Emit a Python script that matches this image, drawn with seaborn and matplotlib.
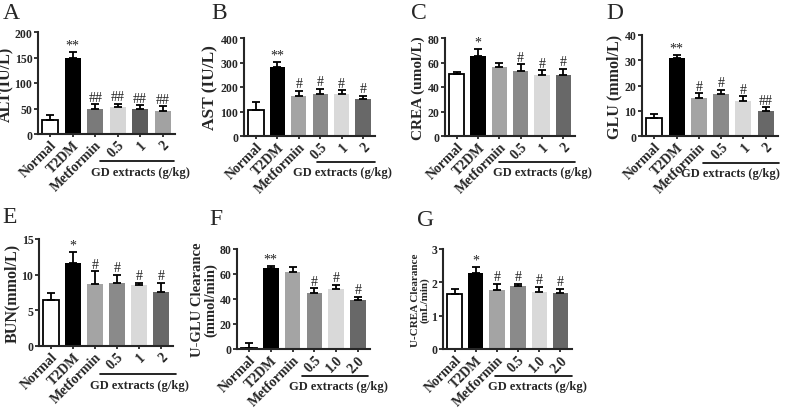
import numpy as np
import pandas as pd
import matplotlib
matplotlib.use("Agg")
import matplotlib.pyplot as plt
import seaborn as sns

sns.set_style("ticks")
plt.rcParams['font.family'] = ['Liberation Serif', 'DejaVu Serif']
plt.rcParams['font.weight'] = 'bold'
plt.rcParams['axes.linewidth'] = 1.5

# --- datos ---
groups_a = ["Normal", "T2DM", "Metformin", "0.5", "1", "2"]
groups_b = ["Normal", "T2DM", "Metformin", "0.5", "1.0", "2.0"]

alt_mean = [27, 150, 50, 52, 49, 45]
alt_err = [10, 10, 8, 7, 7, 9]
alt_sig = ["", "**", "##", "##", "##", "##"]

ast_mean = [108, 283, 165, 173, 170, 150]
ast_err = [30, 18, 20, 20, 17, 15]
ast_sig = ["", "**", "#", "#", "#", "#"]

crea_mean = [50.5, 65.5, 56, 53, 50, 49.5]
crea_err = [1.5, 5.5, 4, 5.5, 3.5, 5.5]
crea_sig = ["", "*", "", "#", "#", "#"]

glu_mean = [7, 31, 15, 16.5, 13.8, 10]
glu_err = [1.6, 1.2, 2, 1.8, 2, 1.4]
glu_sig = ["", "**", "#", "#", "#", "##"]

bun_mean = [6.5, 11.6, 8.7, 8.8, 8.5, 7.6]
bun_err = [1.0, 1.6, 1.8, 1.2, 0.4, 1.3]
bun_sig = ["", "*", "#", "#", "#", "#"]

uglu_mean = [0.5, 64.5, 62, 45, 48, 39]
uglu_err = [4, 2, 4, 3.5, 3.5, 3]
uglu_sig = ["", "**", "", "#", "#", "#"]

ucrea_mean = [1.65, 2.27, 1.78, 1.88, 1.72, 1.68]
ucrea_err = [0.14, 0.2, 0.18, 0.08, 0.15, 0.12]
ucrea_sig = ["", "*", "#", "#", "#", "#"]

colors_a = ["white", "black", "#7a7a7a", "#d6d6d6", "#5c5c5c", "#a2a2a2"]
colors_b = ["white", "black", "#a4a4a4", "#8a8a8a", "#d9d9d9", "#686868"]

W, H = 786, 414
fig = plt.figure(figsize=(W / 100, H / 100), dpi=100)


def panel(box, letter, letter_xy, groups, mean, err, sig, colors, ylabel, yticks,
          lab_size=12, line=(2.2, 5.55), txt_x=4.0, labelpad=1.5):
    x0, x1, y0, y1 = box
    ax = fig.add_axes([x0 / W, 1 - y1 / H, (x1 - x0) / W, (y1 - y0) / H])
    df = pd.DataFrame({"grupo": groups, "valor": mean})
    sns.barplot(data=df, x="grupo", y="valor", hue="grupo", palette=colors,
                width=0.72, legend=False, ax=ax, saturation=1)
    for i, p in enumerate(ax.patches):
        p.set_edgecolor("black" if i == 0 else p.get_facecolor())
        p.set_linewidth(1.3 if i == 0 else 0)
    xs = np.arange(len(groups))
    ax.errorbar(xs, mean, yerr=[np.zeros(len(mean)), err], fmt="none",
                ecolor="black", elinewidth=1.3, capsize=2.6, capthick=1.3)
    top = yticks[-1]
    for xi, m, e, s in zip(xs, mean, err, sig):
        if s:
            ax.text(xi, m + e + top * 0.005, s, ha="center", va="bottom",
                    fontsize=10, fontweight="normal", color="#222222")
    ax.set_ylim(0, top)
    ax.set_yticks(yticks)
    ax.set_xlim(-0.55, len(groups) - 0.45)
    ax.set_xlabel("")
    ax.set_ylabel(ylabel, fontsize=lab_size, fontweight="bold", labelpad=labelpad,
                  linespacing=1.0)
    ax.tick_params(axis="y", labelsize=8.5, width=1.3, length=3, pad=1)
    ax.tick_params(axis="x", labelsize=10, width=1.3, length=2, pad=1)
    ax.set_xticks(xs)
    ax.set_xticklabels(groups, rotation=45, ha="right", rotation_mode="anchor",
                       fontweight="bold")
    for t in ax.get_yticklabels():
        t.set_fontweight("bold")
    sns.despine(ax=ax)
    # linea de GD extracts
    tr = ax.get_xaxis_transform()
    ax.plot(line, [-0.265, -0.265], color="black", lw=1.2,
            transform=tr, clip_on=False)
    ax.text(txt_x, -0.31, "GD extracts (g/kg)", transform=tr, ha="center",
            va="top", fontsize=9, fontweight="bold")
    fig.text(letter_xy[0] / W, 1 - letter_xy[1] / H, letter, fontsize=17,
             fontweight="normal", ha="left", va="top")
    return ax


panel((38, 175, 33, 135), "A", (3, 3), groups_a, alt_mean, alt_err, alt_sig,
      colors_a, "ALT(IU/L)", [0, 50, 100, 150, 200], lab_size=11.5,
      line=(2.2, 5.5), txt_x=4.0, labelpad=0)
panel((244, 375, 39, 137), "B", (211, 3), groups_a, ast_mean, ast_err, ast_sig,
      colors_b, "AST (IU/L)", [0, 100, 200, 300, 400], lab_size=12.5,
      line=(2.85, 5.55), txt_x=4.05)
panel((445, 575, 39, 137), "C", (411, 3), groups_a, crea_mean, crea_err, crea_sig,
      colors_b, "CREA (umol/L)", [0, 20, 40, 60, 80], lab_size=11,
      line=(2.0, 5.55), txt_x=4.0)
panel((642, 778, 36, 137), "D", (606, 3), groups_a, glu_mean, glu_err, glu_sig,
      colors_b, "GLU (mmol/L)", [0, 10, 20, 30, 40], lab_size=11.5,
      line=(2.2, 5.6), txt_x=3.4)
panel((39, 173, 240, 347), "E", (2, 207), groups_a, bun_mean, bun_err, bun_sig,
      colors_b, "BUN(mmol/L)", [0, 5, 10, 15], lab_size=11.5,
      line=(2.22, 5.7), txt_x=4.0, labelpad=1)
panel((237, 370, 250, 350), "F", (209, 209), groups_b, uglu_mean, uglu_err, uglu_sig,
      colors_b, "U-GLU Clearance\n(mmol/min)", [0, 20, 40, 60, 80], lab_size=10.5,
      line=(2.43, 5.45), txt_x=4.1)
panel((443, 572, 250, 350), "G", (417, 210), groups_b, ucrea_mean, ucrea_err, ucrea_sig,
      colors_b, "U-CREA Clearance\n(mL/min)", [0, 1, 2, 3], lab_size=8,
      line=(1.9, 5.55), txt_x=3.9)

fig.savefig("out.png", dpi=100, facecolor="white")
